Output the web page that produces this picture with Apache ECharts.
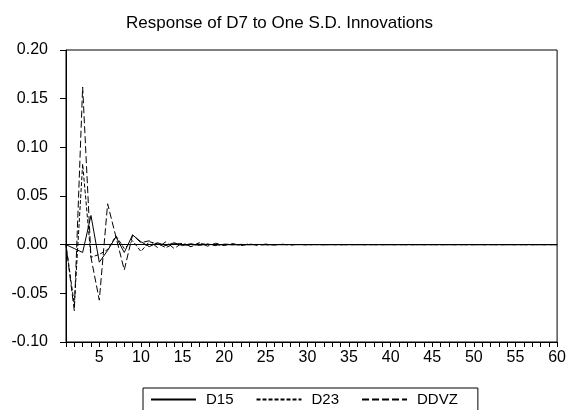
<!DOCTYPE html>
<html>
<head>
<meta charset="utf-8">
<script src="https://cdn.jsdelivr.net/npm/echarts@6/dist/echarts.min.js"></script>
<style>
html,body{margin:0;padding:0;background:#fff;}
#chart{width:569px;height:410px;}
</style>
</head>
<body>
<div id="chart"></div>
<script>
var periods = [];
for (var i = 1; i <= 60; i++) periods.push(String(i));

var d15 = [0, -0.004, -0.008, 0.030, -0.018, -0.006, 0.008, -0.008, 0.010, 0.003,
  -0.002, 0.002, -0.001, 0.002, -0.001, 0.001, -0.0008, 0.0006, -0.0005, 0.0004,
  -0.0003, 0.0003, -0.0002, 0.0002, -0.0001, 0.0001, -0.0001, 0.0001, 0, 0,
  0, 0, 0, 0, 0, 0, 0, 0, 0, 0,
  0, 0, 0, 0, 0, 0, 0, 0, 0, 0,
  0, 0, 0, 0, 0, 0, 0, 0, 0, 0];

var d23 = [0, -0.062, 0.083, -0.013, -0.010, -0.005, 0.009, -0.004, 0.004, -0.007,
  0.003, 0.001, -0.003, 0.001, 0.001, -0.002, 0.001, 0.0005, -0.001, 0.0005,
  0.0003, -0.0005, 0.0003, 0.0002, -0.0003, 0.0002, 0.0001, -0.0001, 0.0001, 0,
  0, 0, 0, 0, 0, 0, 0, 0, 0, 0,
  0, 0, 0, 0, 0, 0, 0, 0, 0, 0,
  0, 0, 0, 0, 0, 0, 0, 0, 0, 0];

var ddvz = [0, -0.068, 0.162, -0.013, -0.057, 0.042, 0.008, -0.026, 0.010, 0.002,
  0.004, -0.003, 0.003, -0.004, 0.002, -0.002, 0.002, -0.0015, 0.0015, -0.001,
  0.0012, -0.001, 0.0008, -0.0008, 0.0006, -0.0005, 0.0004, -0.0003, 0.0003, -0.0002,
  0.0002, -0.0001, 0.0001, -0.0001, 0.0001, 0, 0, 0, 0, 0,
  0, 0, 0, 0, 0, 0, 0, 0, 0, 0,
  0, 0, 0, 0, 0, 0, 0, 0, 0, 0];

var seriesNames = ['D15', 'D23', 'DDVZ'];
var titleText = 'Response of D7 to One S.D. Innovations';

var FONT = 'Liberation Sans, Arial, sans-serif';
var chart = echarts.init(document.getElementById('chart'), null, {renderer: 'canvas'});

function lineSeries(name, data, dash) {
  return {
    name: name,
    type: 'line',
    data: data,
    symbol: 'none',
    showSymbol: false,
    smooth: false,
    animation: false,
    silent: true,
    itemStyle: {color: '#000'},
    lineStyle: {color: '#000', width: 1, type: dash}
  };
}

var s1 = lineSeries(seriesNames[0], d15, 'solid');
s1.markLine = {
  silent: true,
  symbol: ['none', 'none'],
  label: {show: false},
  lineStyle: {color: '#000', width: 1, type: 'solid'},
  data: [{yAxis: 0}],
  animation: false
};

chart.setOption({
  animation: false,
  backgroundColor: '#fff',
  title: {
    text: titleText,
    left: 121,
    top: 10,
    textStyle: {fontFamily: FONT, fontSize: 17, fontWeight: 'normal', color: '#000'}
  },
  legend: {
    data: seriesNames,
    left: 143,
    top: 388,
    orient: 'horizontal',
    itemWidth: 45,
    itemHeight: 14,
    itemGap: 22,
    padding: [4, 20, 30, 7],
    borderColor: '#000',
    borderWidth: 1,
    itemStyle: {opacity: 0},
    textStyle: {fontFamily: FONT, fontSize: 15, color: '#000', padding: [0, 0, 0, 5]}
  },
  grid: {
    left: 66, right: 6, top: 50, bottom: 68,
    show: true, borderColor: '#000', borderWidth: 1, backgroundColor: 'transparent'
  },
  xAxis: {
    type: 'category',
    data: periods,
    boundaryGap: false,
    axisLine: {onZero: false, lineStyle: {color: '#000', width: 1}},
    axisTick: {show: true, interval: 0, length: 5, lineStyle: {color: '#000'}},
    axisLabel: {
      interval: function (idx, val) { return (idx + 1) % 5 === 0; },
      margin: 8,
      fontFamily: FONT, fontSize: 16, color: '#000'
    },
    splitLine: {show: false}
  },
  yAxis: {
    type: 'value',
    min: -0.1,
    max: 0.2,
    interval: 0.05,
    axisLine: {show: true, lineStyle: {color: '#000', width: 1}},
    axisTick: {show: true, length: 6, lineStyle: {color: '#000'}},
    axisLabel: {
      formatter: function (v) { return v.toFixed(2); },
      margin: 18,
      fontFamily: FONT, fontSize: 16, color: '#000'
    },
    splitLine: {show: false}
  },
  series: [
    s1,
    lineSeries(seriesNames[1], d23, [4, 2]),
    lineSeries(seriesNames[2], ddvz, [7, 3])
  ]
});
</script>
</body>
</html>
